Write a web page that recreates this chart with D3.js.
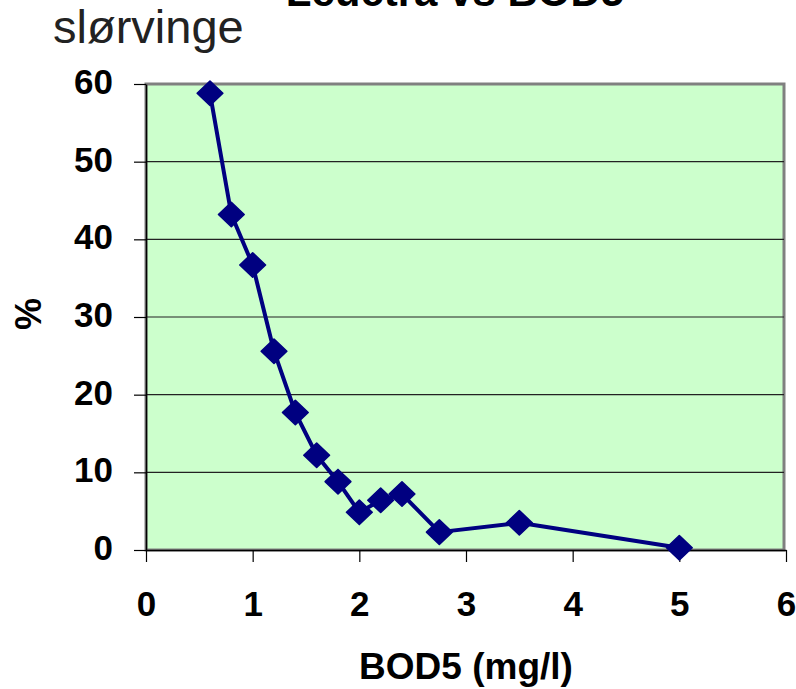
<!DOCTYPE html>
<html>
<head>
<meta charset="utf-8">
<script src="https://cdn.jsdelivr.net/npm/d3@7"></script>
<style>
  body { margin: 0; background: #fff; }
  svg text { font-family: "Liberation Sans", Arial, sans-serif; }
</style>
</head>
<body>
<div id="main"></div>
<script>
// data
var bod5 = [0.6, 0.8, 1.0, 1.2, 1.4, 1.6, 1.8, 2.0, 2.2, 2.4, 2.75, 3.5, 5.0];
var pct = [58.8, 43.2, 36.7, 25.6, 17.7, 12.2, 8.8, 4.85, 6.4, 7.2, 2.3, 3.5, 0.3];
var xTicks = [0, 1, 2, 3, 4, 5, 6];
var yTicks = [0, 10, 20, 30, 40, 50, 60];

var width = 796, height = 689;
var plotL = 146, plotR = 786, plotT = 84, plotB = 550;

var svg = d3.select("#main").append("svg")
  .attr("width", width)
  .attr("height", height);

var x = d3.scaleLinear().domain([0, 6]).range([plotL, plotR]);
var y = d3.scaleLinear().domain([0, 60]).range([plotB, plotT]);

// plot area
svg.append("rect")
  .attr("x", plotL).attr("y", plotT)
  .attr("width", plotR - plotL - 2).attr("height", plotB - plotT)
  .attr("fill", "#ccffcc")
  .attr("stroke", "#808080")
  .attr("stroke-width", 3);

// gridlines
svg.append("g").selectAll("line")
  .data(yTicks.filter(function(d) { return d > 0 && d < 60; }))
  .enter().append("line")
  .attr("x1", plotL).attr("x2", plotR - 2)
  .attr("y1", function(d) { return y(d); })
  .attr("y2", function(d) { return y(d); })
  .attr("stroke", "#222")
  .attr("stroke-width", 1.2);

// axes
var xAxis = svg.append("g")
  .attr("transform", "translate(0," + plotB + ")")
  .call(d3.axisBottom(x).tickValues(xTicks).tickFormat(d3.format("d"))
    .tickSize(12).tickSizeOuter(0).tickPadding(29));
var yAxis = svg.append("g")
  .attr("transform", "translate(" + plotL + ",0)")
  .call(d3.axisLeft(y).tickValues(yTicks).tickFormat(d3.format("d"))
    .tickSize(12).tickSizeOuter(0).tickPadding(21));

[xAxis, yAxis].forEach(function(a) {
  a.select(".domain").attr("stroke", "#000").attr("stroke-width", 1.5);
  a.selectAll(".tick line").attr("stroke", "#000").attr("stroke-width", 1.2);
  a.selectAll(".tick text")
    .attr("font-family", "Liberation Sans, Arial, sans-serif")
    .attr("font-size", 35)
    .attr("font-weight", "bold")
    .attr("fill", "#000");
});
yAxis.selectAll(".tick text").attr("dy", "0.27em");

// series
var line = d3.line()
  .x(function(d, i) { return x(bod5[i]); })
  .y(function(d) { return y(d); });

svg.append("path")
  .datum(pct)
  .attr("d", line)
  .attr("fill", "none")
  .attr("stroke", "#000080")
  .attr("stroke-width", 4)
  .attr("stroke-linejoin", "round");

svg.append("g").selectAll("path")
  .data(pct)
  .enter().append("path")
  .attr("d", d3.symbol().type(d3.symbolSquare).size(300))
  .attr("transform", function(d, i) {
    return "translate(" + x(bod5[i]) + "," + y(d) + ") scale(1.05,1) rotate(45)";
  })
  .attr("fill", "#000080")
  .attr("stroke", "#000080")
  .attr("stroke-width", 1.5)
  .attr("stroke-linejoin", "round");

// texts
svg.append("text")
  .attr("x", 455).attr("y", 6)
  .attr("text-anchor", "middle")
  .attr("font-size", 42).attr("font-weight", "bold")
  .text("Leuctra vs BOD5");

svg.append("text")
  .attr("x", 53).attr("y", 43)
  .attr("font-size", 47)
  .attr("fill", "#222")
  .text("slørvinge");

svg.append("text")
  .attr("x", 466).attr("y", 679)
  .attr("text-anchor", "middle")
  .attr("font-size", 37).attr("font-weight", "bold")
  .text("BOD5 (mg/l)");

svg.append("text")
  .attr("transform", "translate(41,314) rotate(-90)")
  .attr("text-anchor", "middle")
  .attr("font-size", 36).attr("font-weight", "bold")
  .text("%");
</script>
</body>
</html>
